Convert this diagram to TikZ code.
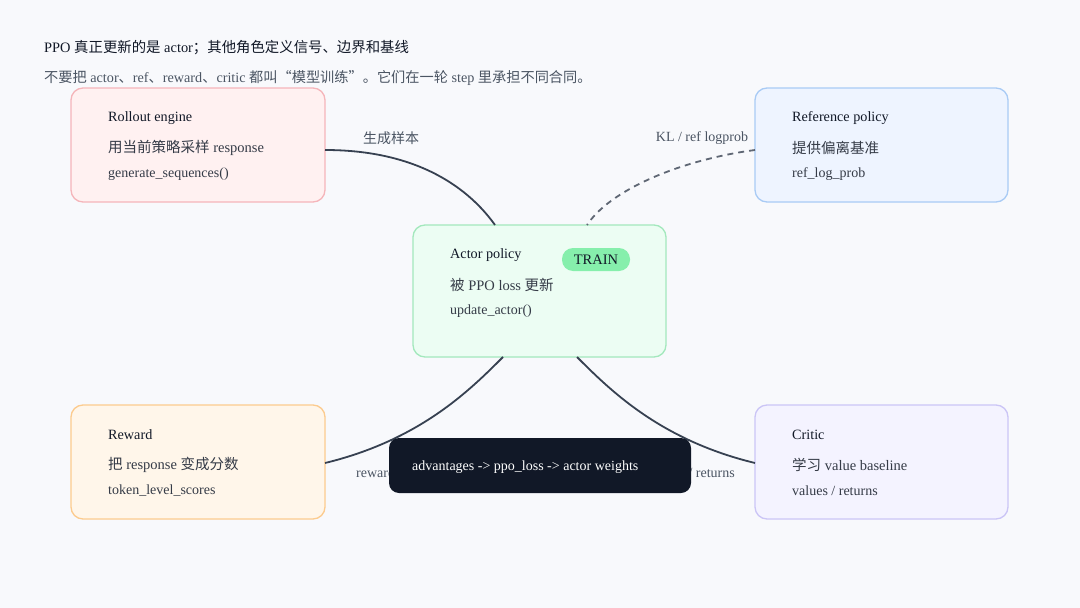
\documentclass[tikz,border=0pt]{standalone}
\usepackage{fontspec}
\setmainfont{Liberation Serif}
\newfontfamily\cjk{Noto Sans CJK SC}
\newcommand{\zh}[1]{{\cjk #1}}
\definecolor{bg}{HTML}{F8F9FC}
\definecolor{ink}{HTML}{111827}
\definecolor{sub}{HTML}{4B5563}
\definecolor{line}{HTML}{374151}
\definecolor{pkF}{HTML}{FFF1F1}\definecolor{pkD}{HTML}{F5B5BA}
\definecolor{blF}{HTML}{EEF4FF}\definecolor{blD}{HTML}{A9CBF5}
\definecolor{grF}{HTML}{ECFDF3}\definecolor{grD}{HTML}{A3E8BD}
\definecolor{orF}{HTML}{FFF6EA}\definecolor{orD}{HTML}{FCCB8E}
\definecolor{puF}{HTML}{F4F3FF}\definecolor{puD}{HTML}{CBC5F6}
\definecolor{pill}{HTML}{86EFAC}
\tikzset{
 x=1pt,y=-1pt,
 box/.style={draw, line width=1.3pt, rounded corners=12pt},
 ttl/.style={anchor=west, inner sep=0pt, font=\fontsize{14.2}{14}\selectfont, text=ink},
 l2/.style={anchor=west, inner sep=0pt, font=\fontsize{14.5}{14}\selectfont, text=ink!85},
 l3/.style={anchor=west, inner sep=0pt, font=\fontsize{14}{14}\selectfont, text=ink!85},
 conn/.style={line width=1.8pt, draw=line},
 lab/.style={font=\fontsize{14}{14}\selectfont, text=sub},
}
\begin{document}
\begin{tikzpicture}
\fill[bg] (0,0) rectangle (1080,608);
\useasboundingbox (0,0) rectangle (1080,608);
\node[anchor=west, inner sep=0pt, font=\fontsize{14.4}{14}\selectfont, text=ink] (t1) at (44,48) {PPO \zh{真正更新的是} actor\zh{；其他角色定义信号、边界和基线}};
\node[anchor=west, inner sep=0pt, font=\fontsize{14.2}{14}\selectfont, text=sub] (t2) at (44,78) {\zh{不要把} actor\zh{、}ref\zh{、}reward\zh{、}critic \zh{都叫“模型训练”。它们在一轮} step \zh{里承担不同合同。}};

% boxes
\draw[box, fill=pkF, draw=pkD] (71,88) rectangle (325,202);
\coordinate (ro) at (325,150);
\node[ttl] (r1) at (108,118) {Rollout engine};
\node[l2] (r2) at (108,148) {\zh{用当前策略采样} response};
\node[l3] (r3) at (108,174) {generate\_sequences()};

\draw[box, fill=blF, draw=blD] (755,88) rectangle (1008,202);
\coordinate (rf) at (755,150);
\node[ttl] (f1) at (792,118) {Reference policy};
\node[l2] (f2) at (792,148) {\zh{提供偏离基准}};
\node[l3] (f3) at (792,174) {ref\_log\_prob};

\draw[box, fill=grF, draw=grD] (413,225) rectangle (666,357);
\coordinate (a1) at (495,225);
\coordinate (a2) at (587,225);
\coordinate (a3) at (503,357);
\coordinate (a4) at (577,357);
\node[ttl] (ac1) at (450,255) {Actor policy};
\node[l2] (ac2) at (450,285) {\zh{被} PPO loss \zh{更新}};
\node[l3] (ac3) at (450,311) {update\_actor()};
\node[fill=pill, rounded corners=11pt, minimum width=68pt, minimum height=23pt, inner sep=0pt, text=ink, font=\fontsize{14.5}{14}\selectfont] (tr) at (596,259.5) {TRAIN};

\draw[box, fill=orF, draw=orD] (71,405) rectangle (325,519);
\coordinate (rw) at (325,463);
\node[ttl] (w1) at (108,435) {Reward};
\node[l2] (w2) at (108,465) {\zh{把} response \zh{变成分数}};
\node[l3] (w3) at (108,491) {token\_level\_scores};

\draw[box, fill=puF, draw=puD] (755,405) rectangle (1008,519);
\coordinate (cr) at (755,463);
\node[ttl] (c1) at (792,435) {Critic};
\node[l2] (c2) at (792,465) {\zh{学习} value baseline};
\node[l3] (c3) at (792,491) {values / returns};

% connectors
\draw[conn] (ro) .. controls (420,150) and (470,190) .. (a1);
\draw[conn, dash pattern=on 6pt off 5pt, draw=line!80] (rf) .. controls (680,160) and (610,190) .. (a2);
\draw[conn] (rw) .. controls (420,440) and (470,390) .. (a3);
\draw[conn] (cr) .. controls (660,440) and (610,390) .. (a4);

\node[lab] (lb1) at (391,138) {\zh{生成样本}};
\node[lab] (lb2) at (702,138) {KL / ref logprob};
\node[lab, anchor=west, inner sep=0pt] (lb3) at (356,473) {reward};
\node[lab, anchor=east, inner sep=0pt] (lb4) at (735,473) {values / returns};

\node[fill=ink, rounded corners=10pt, minimum width=302pt, minimum height=55pt, inner sep=0pt] (bb) at (540,465.5) {};
\node[anchor=west, inner sep=0pt, text=white, font=\fontsize{14}{14}\selectfont] (bt) at (412,467) {advantages -> ppo\_loss -> actor weights};
\end{tikzpicture}
\end{document}
